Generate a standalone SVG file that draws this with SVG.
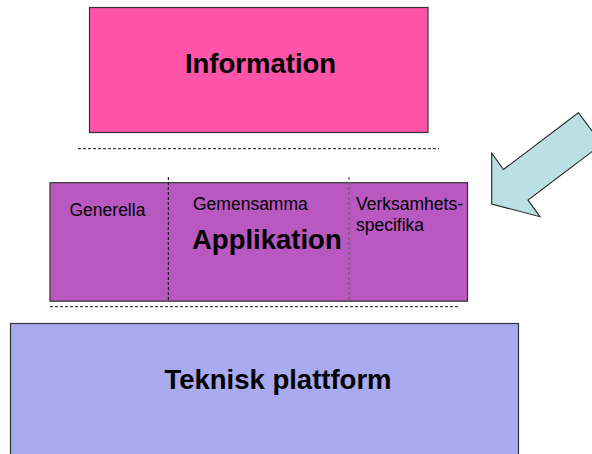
<svg xmlns="http://www.w3.org/2000/svg" width="592" height="454" viewBox="0 0 592 454">
<style>
.box{stroke:#333;stroke-width:1.2}
.big{font-family:"Liberation Sans",Arial,sans-serif;font-weight:bold;font-size:27.5px;fill:#000}
.sm{font-family:"Liberation Sans",Arial,sans-serif;font-size:17.5px;fill:#000}
.dash{stroke:#444;stroke-width:1.2;stroke-dasharray:3 2;fill:none}
</style>
<rect width="592" height="454" fill="#fff"/>
<g id="information">
<rect class="box" x="89.5" y="7.5" width="338.5" height="125" fill="#FF55A8"/>
<text class="big" x="260.5" y="73" text-anchor="middle">Information</text>
</g>
<g id="applikation">
<rect class="box" x="50" y="182.7" width="417.5" height="118.5" fill="#B858C0"/>
<text class="sm" x="69.5" y="216">Generella</text>
<text class="sm" x="193" y="210">Gemensamma</text>
<text class="big" x="192" y="248.5">Applikation</text>
<text class="sm" x="356" y="210">Verksamhets-</text>
<text class="sm" x="356" y="231">specifika</text>
</g>
<g id="teknisk">
<rect class="box" x="10.5" y="323.5" width="508" height="140" fill="#AAAAF0"/>
<text class="big" x="278" y="388.5" text-anchor="middle">Teknisk plattform</text>
</g>
<g id="arrow">
<polygon points="578.3,112.7 602,144 528,200 540,216.7 491.7,204 491.7,153.3 503.5,169.5" fill="#BBE0E3" stroke="#222" stroke-width="1.1"/>
</g>
<g id="connectors">
<line class="dash" x1="78" y1="148.7" x2="439" y2="148.7"/>
<line class="dash" x1="50" y1="306.7" x2="460" y2="306.7"/>
<line class="dash" x1="168.4" y1="177" x2="168.4" y2="301" style="stroke:#111"/>
<line class="dash" x1="349" y1="177" x2="349" y2="301" style="stroke:#666"/>
</g>
</svg>
